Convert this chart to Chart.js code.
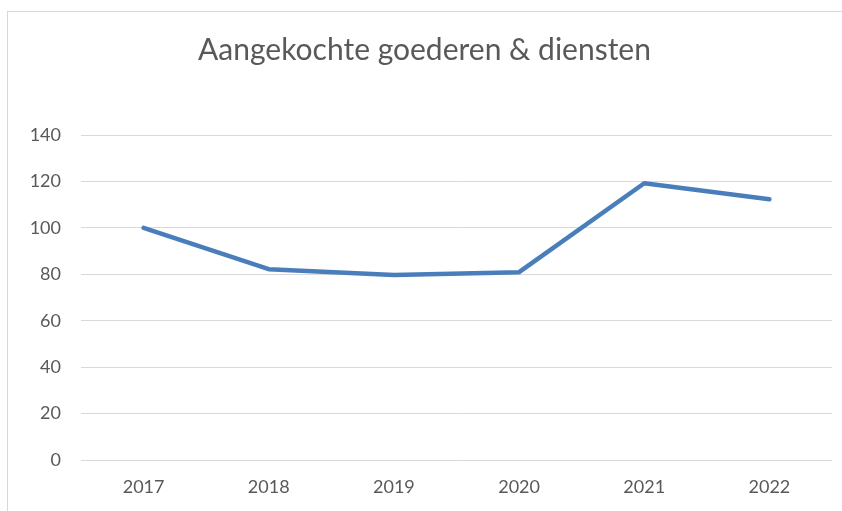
<!DOCTYPE html>
<html>
<head>
<meta charset="utf-8">
<script src="https://cdn.jsdelivr.net/npm/chart.js@4/dist/chart.umd.min.js"></script>
<style>
  html, body { margin: 0; padding: 0; background: #ffffff; }
  #wrap { width: 842px; height: 511px; position: relative; }
</style>
</head>
<body>
<div id="wrap"><canvas id="c" width="842" height="511"></canvas></div>
<script>
const chartTitle = "Aangekochte goederen & diensten";
const categories = ["2017", "2018", "2019", "2020", "2021", "2022"];
const seriesValues = [100, 82.2, 79.7, 80.9, 119.2, 112.3];
const yTicks = [0, 20, 40, 60, 80, 100, 120, 140];

const FONT = "Lato, 'Open Sans', sans-serif";
const TEXT = "#595959";

const framePlugin = {
  id: "frame",
  beforeDraw(chart) {
    const ctx = chart.ctx;
    ctx.save();
    ctx.fillStyle = "#ffffff";
    ctx.fillRect(0, 0, chart.width, chart.height);
    ctx.strokeStyle = "#d9d9d9";
    ctx.lineWidth = 1;
    ctx.strokeRect(7.5, 11.5, chart.width + 20, chart.height + 20);
    ctx.restore();
  }
};

new Chart(document.getElementById("c"), {
  type: "line",
  data: {
    labels: categories,
    datasets: [{
      data: seriesValues,
      borderColor: "#4A7EBB",
      backgroundColor: "#4A7EBB",
      borderWidth: 4.5,
      pointRadius: 0,
      pointHoverRadius: 0,
      tension: 0,
      borderCapStyle: "round",
      borderJoinStyle: "round",
      fill: false
    }]
  },
  options: {
    responsive: false,
    animation: false,
    devicePixelRatio: 1,
    layout: { padding: { left: 17, right: 10, top: 0, bottom: 0 } },
    plugins: {
      legend: { display: false },
      tooltip: { enabled: false },
      title: {
        display: true,
        text: chartTitle,
        color: TEXT,
        font: { family: FONT, size: 30, weight: "normal", lineHeight: 1.2 },
        padding: { top: 32, bottom: 67 }
      }
    },
    scales: {
      x: {
        offset: true,
        grid: { display: false, drawTicks: false },
        border: { display: false },
        ticks: { color: TEXT, font: { family: FONT, size: 18 }, padding: 16 },
        afterFit(scale) { scale.height = 51; }
      },
      y: {
        min: 0,
        max: 140,
        afterBuildTicks(scale) { scale.ticks = yTicks.map(v => ({ value: v })); },
        grid: { color: "#d9d9d9", lineWidth: 1, drawTicks: false },
        border: { display: false },
        ticks: { color: TEXT, font: { family: FONT, size: 18 }, padding: 20 },
        afterFit(scale) { scale.width = 64; }
      }
    }
  },
  plugins: [framePlugin]
});
</script>
</body>
</html>
